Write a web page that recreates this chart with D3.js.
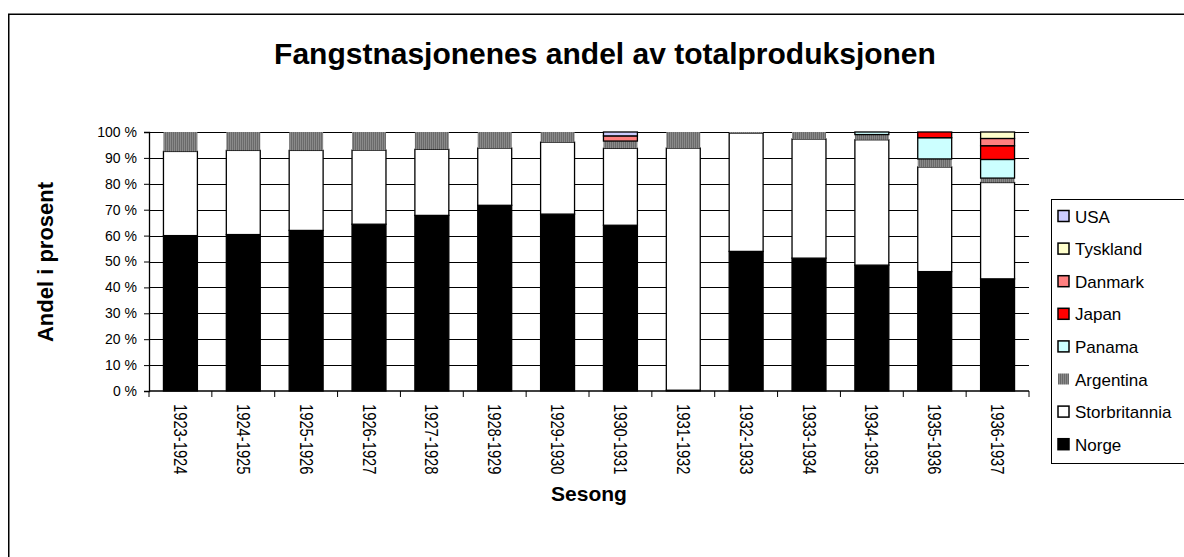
<!DOCTYPE html>
<html lang="no">
<head>
    <meta charset="UTF-8">
    <title>Fangstnasjonenes andel</title>
    <script src="https://d3js.org/d3.v7.min.js"></script>
    <style>
        body { margin: 0; background: #fff; }
        text { font-family: "Liberation Sans", Arial, sans-serif; fill: #000; }
    </style>
</head>
<body>
<div id="chart"></div>
<script>

    // seasons and the share (%) of each nation
    var seasons = ["1923-1924", "1924-1925", "1925-1926", "1926-1927", "1927-1928", "1928-1929", "1929-1930",
        "1930-1931", "1931-1932", "1932-1933", "1933-1934", "1934-1935", "1935-1936", "1936-1937"];

    var norge         = [60.0, 60.4, 62.0, 64.4, 67.8, 71.7, 68.3, 64.0, 0.3, 53.9, 51.3, 48.6, 46.1, 43.3];
    var storbritannia = [32.5, 32.5, 30.9, 28.6, 25.5, 22.1, 27.8, 29.7, 93.5, 45.7, 46.0, 48.4, 40.4, 37.2];
    var argentina     = [7.5, 7.1, 7.1, 7.0, 6.7, 6.2, 3.9, 2.8, 6.2, 0.4, 2.7, 2.0, 3.1, 1.7];
    var panama        = [0, 0, 0, 0, 0, 0, 0, 0, 0, 0, 0, 1.0, 8.2, 7.2];
    var japan         = [0, 0, 0, 0, 0, 0, 0, 0, 0, 0, 0, 0, 2.2, 5.3];
    var danmark       = [0, 0, 0, 0, 0, 0, 0, 2.0, 0, 0, 0, 0, 0, 2.8];
    var tyskland      = [0, 0, 0, 0, 0, 0, 0, 0, 0, 0, 0, 0, 0, 2.5];
    var usa           = [0, 0, 0, 0, 0, 0, 0, 1.5, 0, 0, 0, 0, 0, 0];

    var yTicks = [0, 10, 20, 30, 40, 50, 60, 70, 80, 90, 100];

    var series = [
        {name: "Norge", values: norge, color: "#000000"},
        {name: "Storbritannia", values: storbritannia, color: "#ffffff"},
        {name: "Argentina", values: argentina, color: "url(#argPattern)"},
        {name: "Panama", values: panama, color: "#ccffff"},
        {name: "Japan", values: japan, color: "#ff0000"},
        {name: "Danmark", values: danmark, color: "#ff8080"},
        {name: "Tyskland", values: tyskland, color: "#ffffcc"},
        {name: "USA", values: usa, color: "#ccccff"}
    ];

    // table for d3.stack
    var table = seasons.map(function(s, i) {
        var row = {season: s};
        series.forEach(function(d) { row[d.name] = d.values[i]; });
        return row;
    });

    var W = 1184, H = 557;
    var margin = {top: 132, right: 155, bottom: 166, left: 149};
    var width = W - margin.left - margin.right,
        height = H - margin.top - margin.bottom;

    var svg = d3.select("#chart")
        .append("svg")
        .attr("width", W)
        .attr("height", H);

    // striped grey fill used by Argentina
    var pat = svg.append("defs").append("pattern")
        .attr("id", "argPattern")
        .attr("patternUnits", "userSpaceOnUse")
        .attr("width", 2).attr("height", 2);
    pat.append("rect").attr("width", 2).attr("height", 2).attr("fill", "#8a8a8a");
    pat.append("rect").attr("width", 1).attr("height", 2).attr("fill", "#6a6a6a");

    // outer chart border
    svg.append("rect")
        .attr("x", 8.75).attr("y", 14.25)
        .attr("width", W).attr("height", H)
        .attr("fill", "none")
        .attr("stroke", "#000")
        .attr("stroke-width", 1.5);

    // title
    svg.append("text")
        .attr("x", 605).attr("y", 64)
        .attr("text-anchor", "middle")
        .style("font-size", "30px")
        .style("font-weight", "bold")
        .text("Fangstnasjonenes andel av totalproduksjonen");

    var g = svg.append("g")
        .attr("transform", "translate(" + margin.left + "," + margin.top + ")");

    var x = d3.scaleBand()
        .domain(seasons)
        .range([0, width])
        .paddingInner(0.46)
        .paddingOuter(0.23);

    var y = d3.scaleLinear()
        .domain([0, 100])
        .range([height, 0]);

    // gridlines
    g.append("g")
        .selectAll("line")
        .data(yTicks.filter(function(d) { return d > 0; }))
        .enter().append("line")
        .attr("x1", 0).attr("x2", width)
        .attr("y1", function(d) { return Math.round(y(d)) + 0.5; })
        .attr("y2", function(d) { return Math.round(y(d)) + 0.5; })
        .attr("stroke", "#000")
        .attr("stroke-width", 1);

    // stacked bars
    var stack = d3.stack().keys(series.map(function(d) { return d.name; }));
    var layers = stack(table);

    g.selectAll(".layer")
        .data(layers)
        .enter().append("g")
        .attr("class", "layer")
        .each(function(layer, li) {
            var s = series[li];
            d3.select(this).selectAll("rect")
                .data(layer.filter(function(d) { return d[1] - d[0] > 0; }))
                .enter().append("rect")
                .attr("x", function(d) { return x(d.data.season); })
                .attr("y", function(d) { return y(d[1]); })
                .attr("width", x.bandwidth())
                .attr("height", function(d) { return y(d[0]) - y(d[1]); })
                .attr("fill", s.color)
                .attr("stroke", s.name === "Argentina" ? "none" : "#000")
                .attr("stroke-width", 1.3);
        });

    // y axis
    var yAxis = g.append("g")
        .call(d3.axisLeft(y).tickValues(yTicks).tickSize(5).tickPadding(7)
            .tickFormat(function(d) { return d + " %"; }));
    yAxis.select(".domain").attr("stroke-width", 1.3);
    yAxis.selectAll("text").style("font-size", "14px").attr("font-family", null);

    // x axis, ticks between the categories
    var xAxis = g.append("g")
        .attr("transform", "translate(0," + height + ")");
    xAxis.append("line")
        .attr("x1", 0).attr("x2", width)
        .attr("stroke", "#000").attr("stroke-width", 1.3);
    xAxis.selectAll(".sep")
        .data(seasons.concat(["end"]))
        .enter().append("line")
        .attr("class", "sep")
        .attr("x1", function(d, i) { return i * x.step(); })
        .attr("x2", function(d, i) { return i * x.step(); })
        .attr("y1", 0).attr("y2", 6)
        .attr("stroke", "#000");
    // labels read top to bottom, a bit condensed along the text
    xAxis.selectAll(".lbl")
        .data(seasons)
        .enter().append("text")
        .attr("class", "lbl")
        .attr("transform", function(d) {
            return "translate(" + (x(d) + x.bandwidth() / 2 - 6.5) + ",13) rotate(90) scale(0.82,1)";
        })
        .style("font-size", "18px")
        .text(function(d) { return d; });

    // axis titles
    svg.append("text")
        .attr("transform", "translate(53,262) rotate(-90)")
        .attr("text-anchor", "middle")
        .style("font-size", "22px")
        .style("font-weight", "bold")
        .text("Andel i prosent");

    svg.append("text")
        .attr("x", 589).attr("y", 501)
        .attr("text-anchor", "middle")
        .style("font-size", "21px")
        .style("font-weight", "bold")
        .text("Sesong");

    // legend
    var legend = svg.append("g");
    legend.append("rect")
        .attr("x", 1051.5).attr("y", 199.5)
        .attr("width", 150).attr("height", 264)
        .attr("fill", "#fff")
        .attr("stroke", "#000");

    var items = legend.selectAll(".item")
        .data(series.slice().reverse())
        .enter().append("g")
        .attr("class", "item")
        .attr("transform", function(d, i) { return "translate(1058," + (216 + i * 32.6) + ")"; });
    items.append("rect")
        .attr("x", 0).attr("y", -5.5)
        .attr("width", 11).attr("height", 11)
        .attr("fill", function(d) { return d.color; })
        .attr("stroke", function(d) { return d.name === "Argentina" ? "none" : "#000"; })
        .attr("stroke-width", 1.5);
    items.append("text")
        .attr("x", 17).attr("y", 6.5)
        .style("font-size", "17px")
        .text(function(d) { return d.name; });

</script>
</body>
</html>
